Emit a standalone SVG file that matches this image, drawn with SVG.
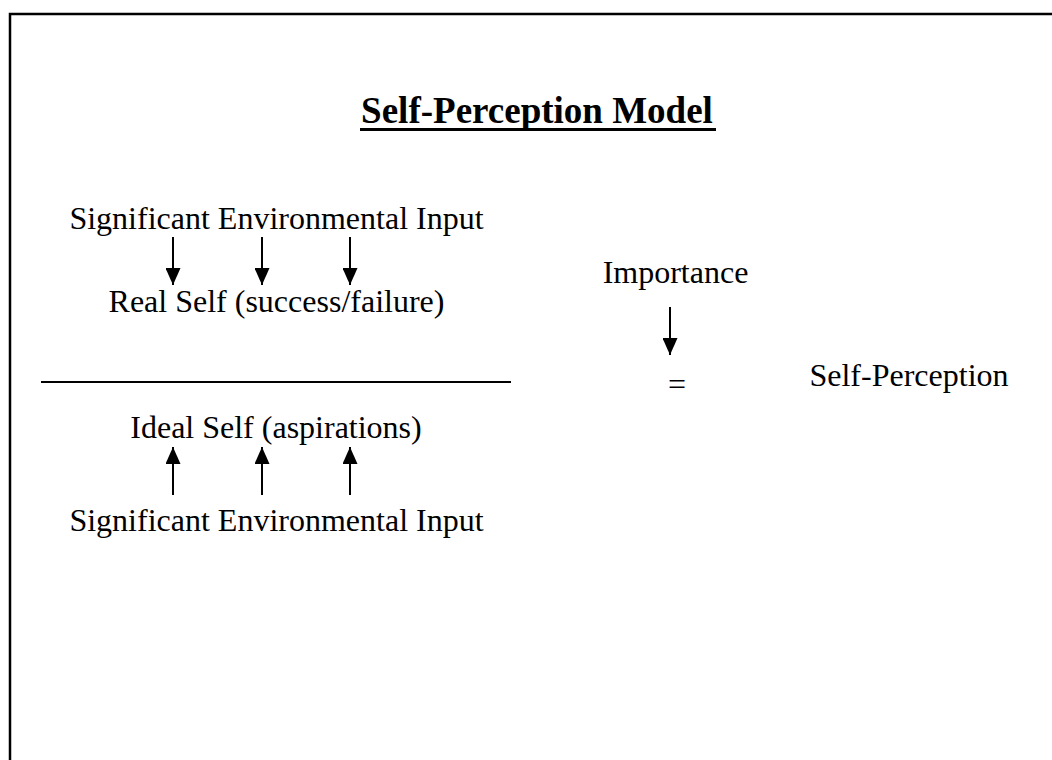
<svg xmlns="http://www.w3.org/2000/svg" width="1052" height="760" viewBox="0 0 1052 760">
  <style>
    .t { font-family: "Liberation Serif", "Times New Roman", serif; font-size: 32px; fill: #000; }
    .title { font-family: "Liberation Serif", "Times New Roman", serif; font-size: 37px; font-weight: bold; fill: #000; }
    .conn { stroke: #000; stroke-width: 2; fill: none; }
  </style>
  <defs>
    <marker id="ah" markerUnits="userSpaceOnUse" markerWidth="17" markerHeight="15" refX="17" refY="7.5" orient="auto">
      <path d="M0,0 L17,7.5 L0,15 z" fill="#000"/>
    </marker>
  </defs>
  <rect x="0" y="0" width="1052" height="760" fill="#fff"/>
  <path d="M10,760 V14 H1052" stroke="#000" stroke-width="2.5" fill="none"/>

  <g id="title">
    <text class="title" x="537" y="123" text-anchor="middle">Self-Perception Model</text>
    <line x1="360" y1="129.5" x2="716" y2="129.5" stroke="#000" stroke-width="3"/>
  </g>
  <g id="input-top">
    <text class="t" x="276.5" y="229" text-anchor="middle">Significant Environmental Input</text>
  </g>
  <g id="real-self">
    <text class="t" x="276.5" y="312" text-anchor="middle">Real Self (success/failure)</text>
  </g>
  <g id="fraction-bar">
    <line x1="41" y1="382" x2="511" y2="382" stroke="#000" stroke-width="2"/>
  </g>
  <g id="ideal-self">
    <text class="t" x="276" y="438" text-anchor="middle">Ideal Self (aspirations)</text>
  </g>
  <g id="input-bottom">
    <text class="t" x="276.5" y="531" text-anchor="middle">Significant Environmental Input</text>
  </g>
  <g id="importance">
    <text class="t" x="675.5" y="283" text-anchor="middle">Importance</text>
  </g>
  <g id="equals">
    <text class="t" x="677" y="395" text-anchor="middle">=</text>
  </g>
  <g id="self-perception">
    <text class="t" x="909" y="386" text-anchor="middle">Self-Perception</text>
  </g>

  <g id="connectors">
    <line class="conn" x1="173" y1="237" x2="173" y2="285" marker-end="url(#ah)"/>
    <line class="conn" x1="262" y1="237" x2="262" y2="285" marker-end="url(#ah)"/>
    <line class="conn" x1="350" y1="237" x2="350" y2="285" marker-end="url(#ah)"/>
    <line class="conn" x1="173" y1="495" x2="173" y2="447" marker-end="url(#ah)"/>
    <line class="conn" x1="262" y1="495" x2="262" y2="447" marker-end="url(#ah)"/>
    <line class="conn" x1="350" y1="495" x2="350" y2="447" marker-end="url(#ah)"/>
    <line class="conn" x1="670" y1="307" x2="670" y2="355" marker-end="url(#ah)"/>
  </g>
</svg>
